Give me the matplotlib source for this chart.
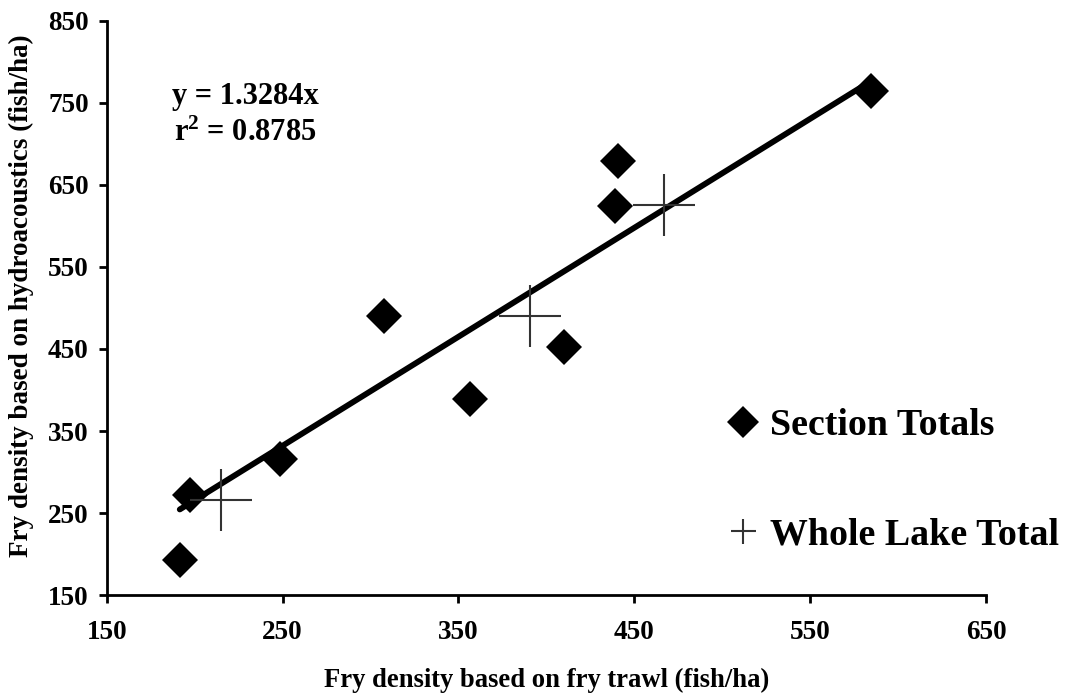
import matplotlib
matplotlib.use("Agg")
import matplotlib.pyplot as plt
from matplotlib.lines import Line2D
import numpy as np

# Fry density estimates (fish/ha): trawl (x) vs hydroacoustics (y)
section_trawl = [191.5, 197.2, 248.5, 307.6, 356.3, 409.8, 438.8, 440.7, 584.7]
section_acoustic = [192.6, 272.6, 316.4, 489.7, 388.6, 453.0, 624.0, 679.6, 764.8]

lake_trawl = [214.8, 390.9, 466.7]
lake_acoustic = [265.7, 489.7, 626.0]

slope = 1.3284
r_squared = 0.8785

x_ticks = [150, 250, 350, 450, 550, 650]
y_ticks = [150, 250, 350, 450, 550, 650, 750, 850]

plt.rcParams["font.family"] = ["Liberation Serif", "DejaVu Serif"]
plt.rcParams["font.weight"] = "bold"
plt.rcParams["mathtext.default"] = "regular"

fig = plt.figure(figsize=(10.68, 6.96), dpi=100)
ax = fig.add_axes([0.1, 0.145, 0.8232, 0.825])

# trend line through origin, drawn across the section-total range
fit_x = np.array([min(section_trawl), max(section_trawl)])
ax.plot(fit_x, slope * fit_x, color="black", lw=4.2, solid_capstyle="round", zorder=2)

ax.plot(section_trawl, section_acoustic, linestyle="none", marker="D",
        ms=18.5, mfc="black", mec="black", mew=0, zorder=3)
ax.plot(lake_trawl, lake_acoustic, linestyle="none", marker="+",
        ms=45, mec="#333333", mew=1.5, zorder=4)

ax.set_xlim(x_ticks[0], x_ticks[-1])
ax.set_ylim(y_ticks[0], y_ticks[-1])
ax.set_xticks(x_ticks)
ax.set_yticks(y_ticks)

for side in ("top", "right"):
    ax.spines[side].set_visible(False)
for side in ("left", "bottom"):
    ax.spines[side].set_linewidth(2.0)
ax.tick_params(axis="both", direction="out", length=6, width=2.0, labelsize=19.5)
ax.tick_params(axis="x", pad=12)
ax.tick_params(axis="y", pad=7)
for lab in ax.get_xticklabels() + ax.get_yticklabels():
    lab.set_fontweight("bold")

ax.set_xlabel("Fry density based on fry trawl (fish/ha)", fontsize=19.2,
              fontweight="bold")
ax.xaxis.set_label_coords(0.5, -0.148)
ax.xaxis.label.set_va("center")
ax.set_ylabel("Fry density based on hydroacoustics (fish/ha)", fontsize=19.5,
              fontweight="bold")
ax.yaxis.set_label_coords(-0.097, 0.5215)
ax.yaxis.label.set_va("center")

ax.text(0.158, 0.869, f"y = {slope}x", transform=ax.transAxes,
        ha="center", va="center", fontsize=22, fontweight="bold")
ax.text(0.158, 0.804, f"r$^{{2}}$ = {r_squared}", transform=ax.transAxes,
        ha="center", va="center", fontsize=22, fontweight="bold")

handles = [
    Line2D([], [], linestyle="none", marker="D", ms=16, mfc="black", mec="black", mew=0),
    Line2D([], [], linestyle="none", marker="+", ms=18, mec="#333333", mew=1.5),
]
ax.legend(handles, ["Section Totals", "Whole Lake Total"], loc="center left",
          bbox_to_anchor=(0.702, 0.2), frameon=False, borderpad=0,
          borderaxespad=0, handlelength=1.0, handletextpad=0.22,
          labelspacing=1.95, prop={"size": 27.3, "weight": "bold"})

fig.savefig("out.png", dpi=100)
